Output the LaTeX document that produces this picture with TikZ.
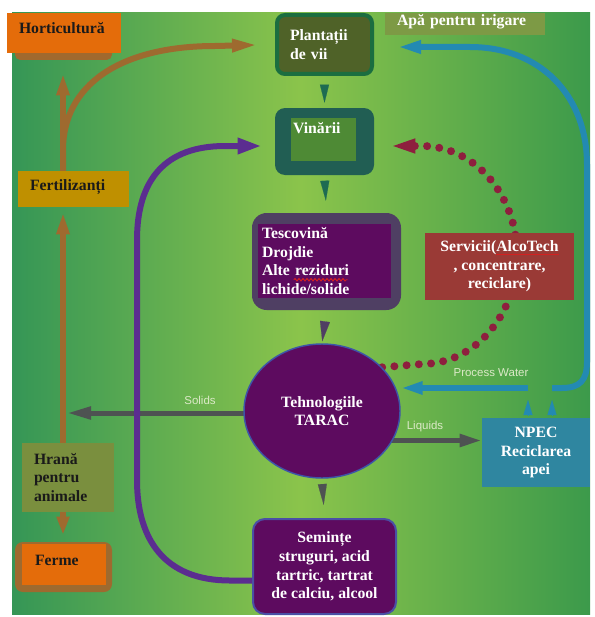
\documentclass[tikz,border=0pt]{standalone}
\usepackage{fontspec}
\setmainfont{Liberation Serif}
\newfontfamily\labelfont{Liberation Sans}
\usetikzlibrary{arrows.meta,calc,shapes.geometric,decorations.pathmorphing}
\pgfdeclarelayer{bg}\pgfdeclarelayer{back}\pgfdeclarelayer{front}\pgfsetlayers{bg,back,main,front}
\definecolor{bgL}{HTML}{359656}
\definecolor{bgM}{HTML}{8BC44B}
\definecolor{bgR}{HTML}{3C9A4B}
\definecolor{orangeC}{HTML}{E46C0A}
\definecolor{brownC}{HTML}{9E6A2F}
\definecolor{shadowC}{HTML}{A0692E}
\definecolor{goldC}{HTML}{BF9000}
\definecolor{oliveC}{HTML}{7A8F3E}
\definecolor{apaC}{HTML}{7D9A45}
\definecolor{plantFill}{HTML}{4F6228}
\definecolor{plantBorder}{HTML}{1B6E40}
\definecolor{vinOuter}{HTML}{215E53}
\definecolor{vinInner}{HTML}{4E8A35}
\definecolor{tealTip}{HTML}{1D6B52}
\definecolor{tescOuter}{HTML}{4F3F63}
\definecolor{purpleFill}{HTML}{5D0B5F}
\definecolor{taracBorder}{HTML}{3D55A8}
\definecolor{semBorder}{HTML}{4A4FA5}
\definecolor{grayC}{HTML}{4E5252}
\definecolor{blueC}{HTML}{238AB2}
\definecolor{npecC}{HTML}{2F86A0}
\definecolor{servC}{HTML}{9A3A36}
\definecolor{dotC}{HTML}{8E1F3E}
\definecolor{lblC}{HTML}{DCE9C8}
\definecolor{darkTxt}{HTML}{1A1A1A}
\definecolor{purpleLine}{HTML}{5B2D90}
\definecolor{ulred}{HTML}{D42020}
\newcommand\redul[1]{{\color{ulred}\underline{\textcolor{white}{#1}}}}
\begin{document}
\begin{tikzpicture}[x=0.75pt,y=-0.75pt,
  box/.style={rectangle, inner ysep=0pt, font=\bfseries\fontsize{11.8}{13.9}\selectfont},
  lbl/.style={font=\labelfont\fontsize{8.6}{10}\selectfont, text=lblC, inner sep=0pt},
  brownline/.style={draw=brownC, line width=4.5pt},
  grayline/.style={draw=grayC, line width=3.75pt},
  purpleline/.style={draw=purpleLine, line width=4.5pt},
  blueline/.style={draw=blueC, line width=4.5pt},
  dotline/.style={draw=dotC, line width=6pt, line cap=round, dash pattern=on 0pt off 9.2pt},
  bluetip/.style={draw=blueC, line width=0.1pt, shorten <=2.25pt, shorten >=9pt, -{Triangle[length=11.25pt,width=6.75pt]}}
]
\useasboundingbox (0,0) rectangle (595,617);
\begin{pgfonlayer}{bg}
  \shade[left color=bgL, right color=bgR, middle color=bgM] (12,13) rectangle (590,614);
\end{pgfonlayer}

% nodes
\node[box, fill=orangeC, text=darkTxt, minimum width=85.5pt, minimum height=30pt, inner xsep=9pt,
      text width=67.5pt, align=left, text height=8.2pt, text depth=7.5pt] (hort) at (64,33) {Horticultură};
\node[box, fill=goldC, text=darkTxt, minimum width=83.25pt, minimum height=27pt, inner xsep=9pt,
      text width=65.25pt, align=left, text height=8.2pt, text depth=6.45pt] (fert) at (73.5,189) {Fertilizanți};
\node[box, fill=oliveC, text=darkTxt, minimum width=69pt, minimum height=51.75pt, inner xsep=9pt,
      text width=51pt, align=left] (hrana) at (68,477.5) {Hrană\\pentru\\animale};
\node[box, fill=orangeC, text=darkTxt, minimum width=63pt, minimum height=30.75pt, inner xsep=9.75pt,
      text width=43.5pt, align=left, text height=8.2pt, text depth=7.2pt] (ferme) at (64,564.5) {Ferme};
\node[box, fill=plantFill, draw=plantBorder, line width=3pt, rounded corners=6pt, text=white,
      minimum width=71.25pt, minimum height=44.25pt, inner xsep=9.75pt, text width=51.75pt, align=left] (plant) at (324.5,44.5) {Plantații\\de vii\\[-5pt]};
\node[box, fill=vinOuter, rounded corners=7.5pt, minimum width=74.25pt, minimum height=50.25pt] (vin) at (324.5,141.5) {};
\node[box, fill=vinInner, text=white, minimum width=48.75pt, minimum height=32.25pt, inner xsep=1.5pt,
      text width=45.75pt, align=left, text height=8.2pt, text depth=17.7pt] (vinin) at (323.5,139.5) {Vinării};
\node[box, fill=tescOuter, rounded corners=11pt, minimum width=111.75pt, minimum height=72.75pt] (tesc) at (326.5,261.5) {};
\node[box, fill=purpleFill, text=white, minimum width=99.75pt, minimum height=55.5pt, inner xsep=3pt,
      text width=93.75pt, align=left] (tescin) at (324.5,261) {Tescovină\\Drojdie\\Alte reziduri\\lichide/solide};
\node[box, ellipse, fill=purpleFill, draw=taracBorder, line width=1.1pt, text=white, inner sep=0pt,
      minimum width=117pt, minimum height=100.5pt, align=center] (tarac) at (322,411) {Tehnologiile\\TARAC};
\node[box, fill=purpleFill, draw=semBorder, line width=1.5pt, rounded corners=9pt, text=white,
      minimum width=107.25pt, minimum height=71.25pt, align=center] (sem) at (324.5,566.5) {Semințe\\struguri, acid\\tartric, tartrat\\de calciu, alcool};
\node[box, fill=servC, text=white, minimum width=111.75pt, minimum height=50.25pt, align=center] (serv) at (499.5,266.5) {Servicii(\redul{AlcoTech}\\, concentrare,\\reciclare)};
\node[box, fill=npecC, text=white, minimum width=81pt, minimum height=51.75pt, align=center] (npec) at (536,452.5) {NPEC\\Reciclarea\\apei};
\node[box, fill=apaC, text=white, minimum width=120pt, minimum height=16.5pt, inner xsep=9pt,
      text width=102pt, align=left, text height=8.2pt, text depth=6.45pt] (apa) at (465,24) {Apă pentru irigare};

\node[lbl] (solids) at (200,400) {Solids};
\node[lbl] (pwlbl) at (491,373) {Process Water};
\node[lbl] (liq) at (425,427) {Liquids};

\coordinate (vx) at (63,0);
\coordinate (pw1) at (528,388);
\coordinate (pw2) at (552,388);

\begin{pgfonlayer}{front}
  % spell-check wavy underline under "reziduri"
  \draw[ulred, line width=0.7pt, decorate, decoration={snake, amplitude=0.9pt, segment length=3pt}]
     ($(tescin.north west)+(36,56)$) -- ($(tescin.north west)+(90,56)$);
\end{pgfonlayer}

\begin{pgfonlayer}{back}
  \fill[shadowC, rounded corners=4pt] (15,20) rectangle (112,60);
  \fill[brownC, rounded corners=6pt] (15,542) rectangle (112,592);
  % brown flows
  \draw[brownline, -{Triangle[length=16.5pt,width=9pt]}, shorten >=15pt] (fert.north -| vx) -- (hort.south -| vx);
  \draw[brownline, -{Triangle[length=19.5pt,width=9pt]}, shorten >=12.75pt]
     (fert.north -| vx) -- (63,150) .. controls (63,85) and (120,46) .. (215,46) -- (plant.west);
  \draw[brownline, -{Triangle[length=16.5pt,width=9pt]}, shorten >=3.75pt] (hrana.north -| vx) -- (fert.south -| vx);
  \draw[brownline, -{Triangle[length=13.5pt,width=9pt]}, shorten >=6.75pt] (hrana.south -| vx) -- (ferme.north -| vx);
  % gray flows
  \draw[grayline, -{Triangle[length=18pt,width=9pt]}] ($(tarac.center)+(0,2)$) -- ($(tarac.west -| vx)+(4,2)$);
  \draw[grayline, -{Triangle[length=16.5pt,width=9pt]}] ($(npec.west)+(-150,-12)$) -- ($(npec.west)+(0,-12)$);
  % purple loop
  \draw[purpleline, -{Triangle[length=18pt,width=11.25pt]}, shorten >=9.75pt]
     ($(sem.west)+(0,14)$) -- (230,580.5) .. controls (165,580.5) and (137,540) .. (137,480) -- (137,240)
     .. controls (137,180) and (165,146) .. (225,146) -- ($(vin.west)+(0,4.5)$);
  % blue flows
  \draw[blueline, -{Triangle[length=16.5pt,width=9pt]}] (pw1) -- (pw1 -| tarac.east);
  \draw[blueline, -{Triangle[length=18pt,width=9pt]}, shorten >=17.25pt]
     (pw2) -- (562,388) .. controls (580,388) and (587,380) .. (587,362) -- (587,165)
     .. controls (587,95) and (540,47) .. (470,47) -- ($(plant.east)+(0,2.5)$);
  \draw[bluetip] (npec.north -| pw1) -- (pw1);
  \draw[bluetip] (npec.north -| pw2) -- (pw2);
  % dotted red
  \draw[dotline, -{Triangle[length=18.75pt,width=9.75pt]}]
     (tarac.36) -- (422,364) .. controls (474.5,364) and (517,315.2) .. (517,255)
     .. controls (517,194.8) and (474.5,146) .. (422,146) -- ($(vin.east)+(16,4.5)$);
  % small down triangles
  \draw[draw=tealTip, line width=0.1pt, shorten <=8.25pt, shorten >=3.75pt, -{Triangle[length=13.5pt,width=6.75pt]}] (plant.south) -- (vin.north);
  \draw[draw=tealTip, line width=0.1pt, shorten <=4.5pt, shorten >=9pt, -{Triangle[length=15pt,width=6.75pt]}] (vin.south) -- (tesc.north);
  \draw[draw=tescOuter, line width=0.1pt, shorten <=9pt, shorten >=1.5pt, -{Triangle[length=15pt,width=7.5pt]}] (tesc.south) -- (tarac.north);
  \draw[draw=grayC, line width=0.1pt, shorten <=5.25pt, shorten >=9.75pt, -{Triangle[length=15.75pt,width=6.75pt]}] (tarac.south) -- (sem.north);
\end{pgfonlayer}
\end{tikzpicture}
\end{document}
